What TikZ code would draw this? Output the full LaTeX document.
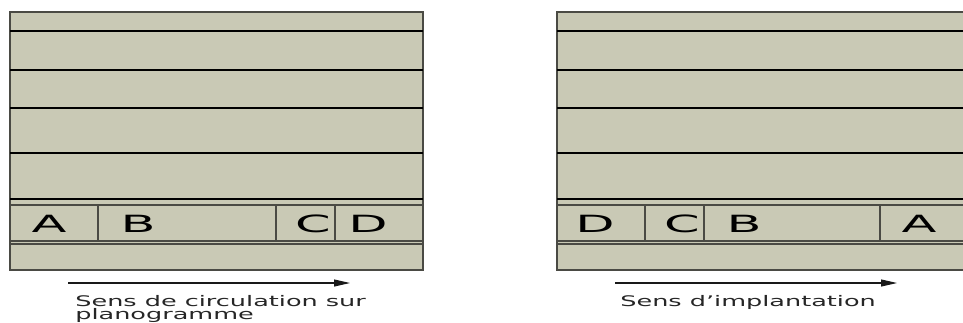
\documentclass[tikz,border=0pt]{standalone}
\usepackage{fontspec}
\newfontfamily\shelffont[FakeStretch=2.15]{DejaVu Sans}
\newfontfamily\notefont[FakeStretch=1.75]{DejaVu Sans}
\usepackage{xcolor}
\definecolor{shelffill}{HTML}{C9C9B5}
\definecolor{edgegray}{HTML}{4A4A44}
\usetikzlibrary{arrows.meta}

\begin{document}
\begin{tikzpicture}[
        x=0.2mm, y=-0.2mm,
        >={Triangle[length=3.2mm,width=1.4mm]},
        % --- shelf styles ---
        gondola/.style={draw=edgegray, line width=0.8pt, fill=shelffill},
        shelfline/.style={line width=1.4pt, black},
        thinline/.style={draw=edgegray, line width=0.6pt},
        % --- text styles ---
        product/.style={font=\shelffont\fontsize{13.5}{15}\selectfont, inner sep=0pt},
        note/.style={
            font=\notefont\fontsize{8.3}{7.2}\selectfont,
            text=black!85, align=left, inner sep=0pt, anchor=north west
        },
        % --- edge style ---
        arr/.style={->, line width=0.6pt, black!90}
    ]

    \useasboundingbox (0,0) rectangle (963,322);
    \clip (0,0) rectangle (963,322);

    % ============================================================
    %  Left gondola: planogram order A B C D
    % ============================================================
    \draw[gondola] (10,12) rectangle (423,270);
    \foreach \y in {31,70,108,153,199}
        \draw[shelfline] (10,\y) -- (423,\y);
    \draw[thinline] (10,205) -- (423,205);
    \draw[thinline] (10,241) -- (423,241);
    \draw[thinline] (10,244) -- (423,244);
    \foreach \x in {98,276,335}
        \draw[thinline] (\x,205) -- (\x,241);

    \node[product] (la) at (49,224)  {A};
    \node[product] (lb) at (138,224) {B};
    \node[product] (lc) at (313,224) {C};
    \node[product] (ld) at (368,224) {D};

    \coordinate (lstart) at (68,283);
    \coordinate (lend)   at (350,283);
    \draw[arr] (lstart) -- (lend);
    \node[note] (lnote) at (75,295) {Sens de circulation sur\\planogramme};

    % ============================================================
    %  Right gondola: implantation order D C B A
    % ============================================================
    \draw[gondola] (557,12) rectangle (975,270);
    \foreach \y in {31,70,108,153,199}
        \draw[shelfline] (557,\y) -- (975,\y);
    \draw[thinline] (557,205) -- (975,205);
    \draw[thinline] (557,241) -- (975,241);
    \draw[thinline] (557,244) -- (975,244);
    \foreach \x in {645,704,880}
        \draw[thinline] (\x,205) -- (\x,241);

    \node[product] (rd) at (595,224) {D};
    \node[product] (rc) at (682,224) {C};
    \node[product] (rb) at (744,224) {B};
    \node[product] (ra) at (919,224) {A};

    \coordinate (rstart) at (615,283);
    \coordinate (rend)   at (897,283);
    \draw[arr] (rstart) -- (rend);
    \node[note] (rnote) at (620,295) {Sens d’implantation};

\end{tikzpicture}
\end{document}
